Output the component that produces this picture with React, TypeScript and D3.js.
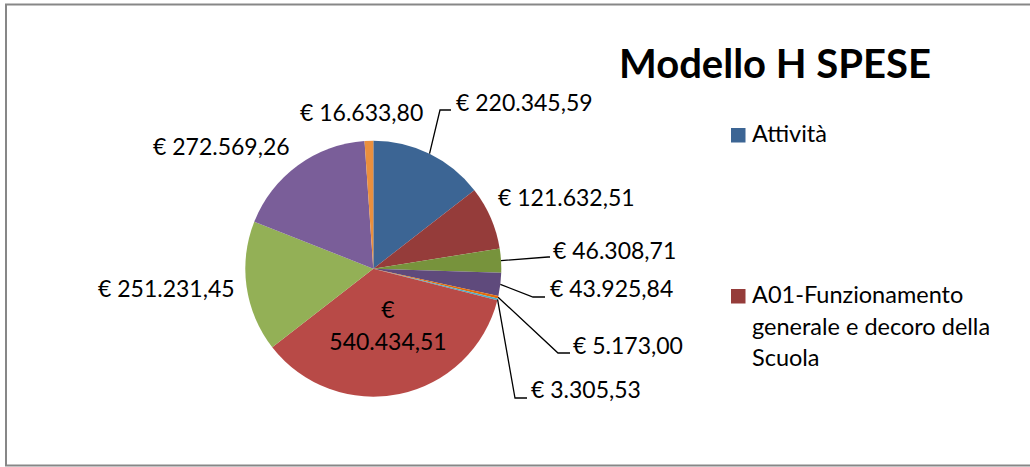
import * as d3 from 'd3';
import { useEffect, useRef } from 'react';

// spese per voce (euro)
const values = [
  220345.59, 121632.51, 46308.71, 43925.84, 5173.0, 3305.53, 540434.51, 251231.45, 272569.26,
  16633.8,
];
const labels = [
  '€ 220.345,59',
  '€ 121.632,51',
  '€ 46.308,71',
  '€ 43.925,84',
  '€ 5.173,00',
  '€ 3.305,53',
  '€ 540.434,51',
  '€ 251.231,45',
  '€ 272.569,26',
  '€ 16.633,80',
];
const sliceColors = [
  '#3c6594', '#953c3a', '#77933c', '#5f4a7c', '#e46c0a', '#4bacc6',
  '#b84a47', '#93b056', '#7a5e99', '#ea8f3e',
];
// legenda troncata: solo le prime due voci sono visibili
const legendItems = [['Attività'], ['A01-Funzionamento', 'generale e decoro della', 'Scuola']];
const legendColors = ['#3c6594', '#953c3a'];

const W = 1030;
const H = 467;
const cx = 373.3;
const cy = 268.7;
const R = 128;
const FONT = 'Lato, "Open Sans", sans-serif';

// where each label sits (left x, middle y) and the leader elbow, if any
const labelLayout = [
  { x: 456, y: 103, elbow: [440, 110], end: 451 },
  { x: 498, y: 198 },
  { x: 553, y: 251, elbow: [548, 257], end: 550 },
  { x: 550, y: 289, elbow: [533, 297], end: 545 },
  { x: 573, y: 346, elbow: [558, 353], end: 570 },
  { x: 531, y: 390, elbow: [515, 398], end: 527 },
  { x: 388, y: 326, inside: true },
  { x: 98, y: 289 },
  { x: 153, y: 147 },
  { x: 300, y: 113 },
];

const App = () => {
  const svgRef = useRef<SVGSVGElement>(null);

  useEffect(() => {
    const svg = d3.select(svgRef.current);
    svg.selectAll('*').remove();

    svg
      .append('rect')
      .attr('x', 6)
      .attr('y', 4.5)
      .attr('width', W + 10)
      .attr('height', 461)
      .attr('fill', 'white')
      .attr('stroke', '#878787')
      .attr('stroke-width', 2);

    const pie = d3
      .pie<number>()
      .sort(null)
      .value((d) => d);
    const arcs = pie(values);
    const arc = d3.arc<d3.PieArcDatum<number>>().innerRadius(0).outerRadius(R);

    const g = svg.append('g').attr('transform', `translate(${cx},${cy})`);
    g.selectAll('path.slice')
      .data(arcs)
      .join('path')
      .attr('class', 'slice')
      .attr('d', arc)
      .attr('fill', (d, i) => sliceColors[i]);

    // leader lines
    arcs.forEach((a, i) => {
      const lay = labelLayout[i];
      if (!lay.elbow) return;
      const mid = (a.startAngle + a.endAngle) / 2;
      const sx = cx + R * Math.sin(mid);
      const sy = cy - R * Math.cos(mid);
      const pts: [number, number][] = [
        [sx, sy],
        [lay.elbow[0], lay.elbow[1]],
        [lay.end, lay.elbow[1]],
      ];
      svg
        .append('path')
        .attr('d', d3.line()(pts))
        .attr('fill', 'none')
        .attr('stroke', '#000')
        .attr('stroke-width', 1.3);
    });

    // data labels
    labelLayout.forEach((lay, i) => {
      if (lay.inside) {
        const parts = labels[i].split(' ');
        const t = svg
          .append('text')
          .attr('text-anchor', 'middle')
          .attr('font-family', FONT)
          .attr('font-size', 23)
          .attr('fill', '#000');
        t.append('tspan').attr('x', lay.x).attr('y', lay.y - 16).attr('dy', '0.35em').text(parts[0]);
        t.append('tspan').attr('x', lay.x).attr('y', lay.y + 16).attr('dy', '0.35em').text(parts[1]);
        return;
      }
      svg
        .append('text')
        .attr('x', lay.x)
        .attr('y', lay.y)
        .attr('dy', '0.35em')
        .attr('font-family', FONT)
        .attr('font-size', 23)
        .attr('fill', '#000')
        .text(labels[i]);
    });

    // title
    svg
      .append('text')
      .attr('x', 775)
      .attr('y', 78)
      .attr('text-anchor', 'middle')
      .attr('font-family', FONT)
      .attr('font-weight', 'bold')
      .attr('font-size', 40)
      .attr('fill', '#000')
      .text('Modello H SPESE');

    // legend
    const legendY = [128, 289];
    legendItems.forEach((lines, i) => {
      svg
        .append('rect')
        .attr('x', 731)
        .attr('y', legendY[i])
        .attr('width', 14.5)
        .attr('height', 14.5)
        .attr('fill', legendColors[i]);
      lines.forEach((ln, j) => {
        svg
          .append('text')
          .attr('x', 752)
          .attr('y', legendY[i] + 14 + j * 31.5)
          .attr('font-family', FONT)
          .attr('font-size', 23.5)
          .attr('fill', '#000')
          .text(ln);
      });
    });
  }, []);

  return (
    <div style={{ position: 'absolute', left: 0, top: 0 }}>
      <svg ref={svgRef} width={W} height={H} style={{ display: 'block' }} />
    </div>
  );
};

export default App;
